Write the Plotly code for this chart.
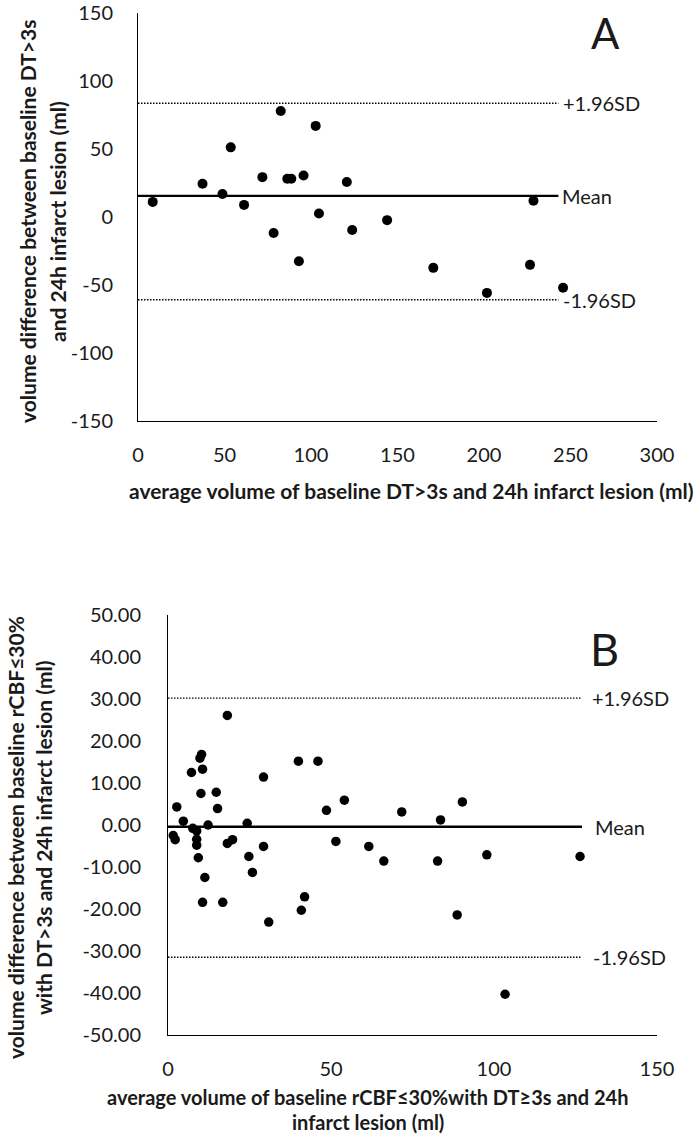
import plotly.graph_objects as go

W, H = 700, 1138

# ---------------- Panel A data ----------------
a_avg = [8.5, 37.3, 48.8, 53.6, 61.3, 71.9, 78.4, 82.5, 86.3, 88.6, 93.0,
         95.7, 102.7, 104.6, 120.7, 123.8, 144.0, 170.7, 201.7, 226.6, 228.6, 245.7]
a_diff = [11.1, 24.5, 16.9, 51.2, 8.9, 29.3, -11.8, 78.0, 28.1, 28.1, -32.5,
          30.5, 67.0, 2.6, 25.7, -9.6, -2.3, -37.4, -55.8, -35.2, 12.0, -52.0]
a_mean, a_upper, a_lower = 15.5, 83.6, -60.9
a_line_end = 243
a_xticks = [0, 50, 100, 150, 200, 250, 300]
a_yticks = [-150, -100, -50, 0, 50, 100, 150]

# ---------------- Panel B data ----------------
b_avg = [2.7, 1.6, 2.2, 4.7, 7.2, 7.6, 8.8, 8.8, 8.8, 9.3, 9.8, 10.3, 10.6, 10.1,
         11.3, 10.6, 12.3, 14.8, 15.2, 16.8, 18.2, 18.2, 19.8, 24.3, 24.8, 25.9,
         29.3, 29.3, 30.9, 40.0, 40.9, 41.9, 46.0, 48.6, 51.5, 54.1, 61.6, 66.2,
         71.7, 83.6, 82.7, 90.3, 88.7, 97.8, 103.4, 126.4]
b_diff = [4.3, -2.5, -3.5, 0.9, 12.5, -0.8, -1.4, -3.4, -4.8, -7.8, 15.9, 16.8, 13.3, 7.5,
          -12.5, -18.4, 0.0, 7.8, 3.9, -18.4, 26.1, -4.4, -3.5, 0.4, -7.5, -11.3,
          11.4, -5.1, -23.1, 15.2, -20.3, -17.1, 15.2, 3.5, -3.9, 5.9, -5.1, -8.6,
          3.1, 1.2, -8.6, 5.5, -21.4, -7.1, -40.3, -7.5]
b_mean, b_upper, b_lower = -0.4, 30.2, -31.5
b_line_end = 127
b_xticks = [0, 50, 100, 150]
b_yticks = [-50, -40, -30, -20, -10, 0, 10, 20, 30, 40, 50]

FONT = "Lato"
TXT = "#1a1a1a"

fig = go.Figure()

def ref_lines(xa, ya, end, mean, up, lo):
    for val, dash, w in [(up, "1.5px,1.5px", 1.4), (lo, "1.5px,1.5px", 1.4), (mean, "solid", 2.4)]:
        fig.add_trace(go.Scatter(x=[0, end], y=[val, val], mode="lines",
                                 line=dict(color="black", width=w, dash=dash),
                                 xaxis=xa, yaxis=ya, showlegend=False, hoverinfo="skip"))

ref_lines("x", "y", a_line_end, a_mean, a_upper, a_lower)
fig.add_trace(go.Scatter(x=a_avg, y=a_diff, mode="markers",
                         marker=dict(color="black", size=10),
                         xaxis="x", yaxis="y", showlegend=False))
ref_lines("x2", "y2", b_line_end, b_mean, b_upper, b_lower)
fig.add_trace(go.Scatter(x=b_avg, y=b_diff, mode="markers",
                         marker=dict(color="black", size=9.5),
                         xaxis="x2", yaxis="y2", showlegend=False))

common = dict(showline=True, linecolor="black", linewidth=1, showgrid=False,
              zeroline=False, ticks="", automargin=False, ticklabeloverflow="allow",
              tickfont=dict(family=FONT, size=20, color=TXT))

fig.update_layout(
    width=W, height=H, margin=dict(l=0, r=0, t=0, b=0, autoexpand=False),
    paper_bgcolor="white", plot_bgcolor="white",
    xaxis=dict(domain=[138 / W, 657 / W], range=[0, 300], anchor="y",
               tickvals=a_xticks, ticktext=[str(v) for v in a_xticks],
               ticklabelstandoff=16, **common),
    yaxis=dict(domain=[1 - 421 / H, 1 - 13 / H], range=[-150, 150], anchor="x",
               tickvals=a_yticks, ticktext=[str(v) for v in a_yticks],
               ticklabelstandoff=20, **common),
    xaxis2=dict(domain=[168 / W, 657 / W], range=[0, 150], anchor="y2",
                tickvals=b_xticks, ticktext=[str(v) for v in b_xticks],
                ticklabelstandoff=16, **common),
    yaxis2=dict(domain=[1 - 1035 / H, 1 - 615 / H], range=[-50, 50], anchor="x2",
                tickvals=b_yticks, ticktext=[f"{v:.2f}" for v in b_yticks],
                ticklabelstandoff=22, **common),
)

def px_ann(text, x, y, size=21, angle=0, xanchor="center", bold=True):
    t = f"<b>{text}</b>" if bold else text
    fig.add_annotation(text=t, x=x / W, y=1 - y / H, xref="paper", yref="paper",
                       showarrow=False, textangle=angle, xanchor=xanchor, yanchor="middle",
                       font=dict(family=FONT, size=size, color=TXT))

# Axis titles
px_ann("volume difference between baseline DT&gt;3s", 27, 222, angle=-90)
px_ann("and 24h infarct lesion (ml)", 57, 222, angle=-90)
px_ann("average volume of baseline DT&gt;3s and 24h infarct lesion (ml)", 412, 490)
px_ann("volume difference between baseline rCBF≤30%", 15, 838, angle=-90)
px_ann("with DT&gt;3s and 24h infarct lesion (ml)", 43, 838, angle=-90)
px_ann("average volume of baseline rCBF≤30%with DT≥3s and 24h", 368, 1097, size=20)
px_ann("infarct lesion (ml)", 368, 1122, size=20)

# Panel letters
px_ann("A", 605, 33, size=42, bold=False)
px_ann("B", 604, 649, size=45, bold=False)

# Reference line labels
def line_label(text, xpx, yval, ya):
    fig.add_annotation(text=text, x=xpx / W, y=yval, xref="paper", yref=ya,
                       showarrow=False, xanchor="left", yanchor="middle",
                       font=dict(family=FONT, size=20, color=TXT))

line_label("+1.96SD", 561, a_upper, "y")
line_label("Mean", 560, a_mean, "y")
line_label("-1.96SD", 561, a_lower, "y")
line_label("+1.96SD", 590, b_upper, "y2")
line_label("Mean", 593, b_mean, "y2")
line_label("-1.96SD", 591, b_lower, "y2")

fig.write_html(
    "out.html",
    config={"displayModeBar": False},
    post_script="document.body.style.margin='0';document.body.style.overflow='hidden';",
)
